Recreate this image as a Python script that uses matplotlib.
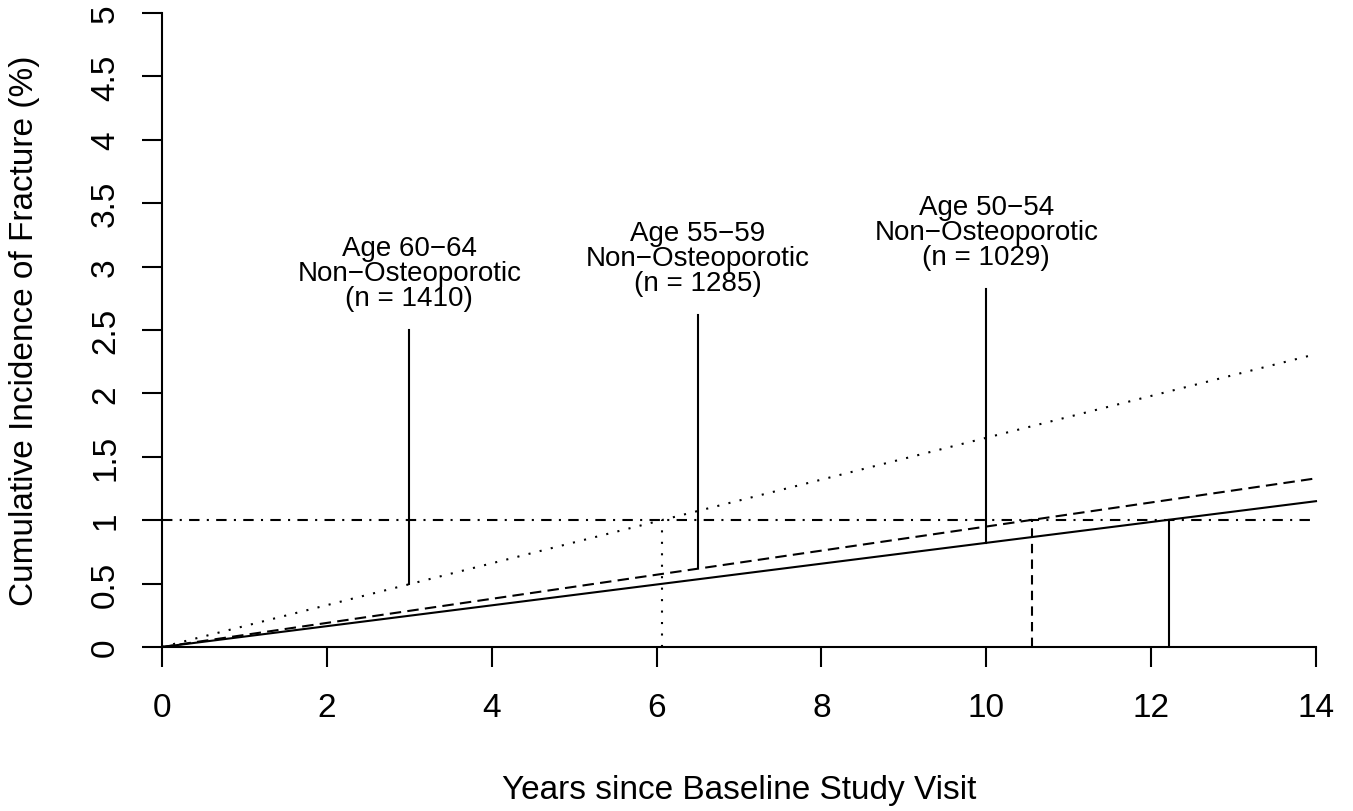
import matplotlib
matplotlib.use("Agg")
import matplotlib.pyplot as plt

# cumulative incidence lines (start and end of follow-up)
years = [0, 14]
inc_60_64 = [0, 2.31]   # dotted
inc_55_59 = [0, 1.33]   # dashed
inc_50_54 = [0, 1.15]   # solid

threshold = 1.0
cross_years = [6.06, 10.55, 12.22]  # where each line reaches 1%

# annotation pointers
ann_x = [3, 6.5, 10]
ann_low = [0.50, 0.62, 0.82]
ann_high = [2.50, 2.62, 2.82]
ann_text = ["Age 60\u221264\nNon\u2212Osteoporotic\n(n = 1410)",
            "Age 55\u221259\nNon\u2212Osteoporotic\n(n = 1285)",
            "Age 50\u221254\nNon\u2212Osteoporotic\n(n = 1029)"]

xticks = [0, 2, 4, 6, 8, 10, 12, 14]
yticks = [0, 0.5, 1, 1.5, 2, 2.5, 3, 3.5, 4, 4.5, 5]
ytick_labels = ["0", "0.5", "1", "1.5", "2", "2.5", "3", "3.5", "4", "4.5", "5"]

plt.rcParams['font.family'] = ['Liberation Sans', 'DejaVu Sans']
fs = 24
fs_ann = 20
lw = 1.5

fig = plt.figure(figsize=(13.53, 8.12), dpi=100)
ax = fig.add_axes([162/1353, 1 - 648/812, 1154/1353, 634/812])

dotted = (0, (1, 4.5))
dashed = (0, (5.5, 3))
dashdot = (0, (5, 3.5, 1, 3.5))

ax.plot(years, inc_60_64, color='black', lw=lw, linestyle=dotted, clip_on=False)
ax.plot(years, inc_55_59, color='black', lw=lw, linestyle=dashed, clip_on=False)
ax.plot(years, inc_50_54, color='black', lw=lw, linestyle='-', clip_on=False)

ax.plot(years, [threshold, threshold], color='black', lw=lw, linestyle=dashdot)
for cx, ls in zip(cross_years, [dotted, (0, (4.5, 3)), '-']):
    ax.plot([cx, cx], [0, threshold], color='black', lw=lw, linestyle=ls)

for x, lo, hi, t in zip(ann_x, ann_low, ann_high, ann_text):
    ax.plot([x, x], [lo, hi], color='black', lw=lw)
    ax.text(x, hi + 0.15, t, ha='center', va='bottom', fontsize=fs_ann,
            linespacing=0.95)

ax.set_xlim(0, 14)
ax.set_ylim(0, 5)
ax.spines['top'].set_visible(False)
ax.spines['right'].set_visible(False)
ax.spines['left'].set_linewidth(lw)
ax.spines['bottom'].set_linewidth(lw)

ax.set_xticks(xticks)
ax.set_yticks(yticks)
ax.set_yticklabels(ytick_labels, rotation=90, va='center')
ax.tick_params(axis='both', length=14.4, width=lw, labelsize=fs)
ax.tick_params(axis='x', pad=18)
ax.tick_params(axis='y', pad=15)

ax.set_xlabel('Years since Baseline Study Visit', fontsize=fs)
ax.set_ylabel('Cumulative Incidence of Fracture (%)', fontsize=fs)
ax.xaxis.set_label_coords(0.5, -0.2)
ax.yaxis.set_label_coords(-0.1057, 0.5)

fig.savefig('out.png', dpi=100)
